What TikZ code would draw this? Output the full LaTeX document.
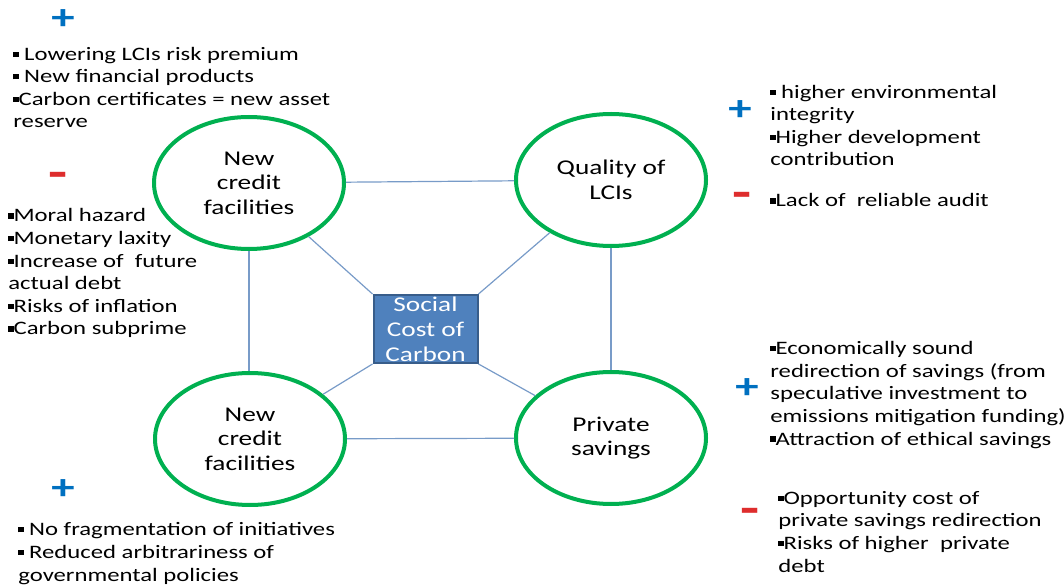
\documentclass[tikz,border=0pt]{standalone}
\usepackage{fontspec}
\setmainfont{Carlito}[FakeStretch=1.3]
\usepackage{tikz}
\usetikzlibrary{positioning}
\usetikzlibrary{shapes.geometric}

\definecolor{ringgreen}{RGB}{0,176,80}
\definecolor{boxblue}{RGB}{79,129,189}
\definecolor{boxedge}{RGB}{56,93,138}
\definecolor{linkblue}{RGB}{120,155,200}
\definecolor{plusblue}{RGB}{0,112,192}
\definecolor{minusred}{RGB}{222,45,45}

\newcommand{\sqb}{\raisebox{0.18em}{\rule{2.6pt}{2.6pt}}}

\tikzset{
    ring/.style={ellipse, draw=ringgreen, line width=2pt, minimum width=95pt,
        minimum height=66pt, align=center, font=\fontsize{10.5}{12.3}\selectfont},
    sccbox/.style={rectangle, fill=boxblue, draw=boxedge, line width=1pt, text=white,
        minimum width=52pt, minimum height=34pt, inner sep=0pt, align=center,
        font=\fontsize{10.5}{12.4}\selectfont},
    link/.style={draw=linkblue, line width=0.6pt},
    plus/.style={text=plusblue, inner sep=0pt, font=\fontsize{18}{18}\selectfont\bfseries},
    minus/.style={text=minusred, inner sep=0pt, font=\fontsize{24}{24}\selectfont\bfseries},
    % base of a list = baseline of its last line
    bullets/.style={anchor=base west, align=left, inner sep=0pt,
        font=\fontsize{9.5}{11.3}\selectfont}
}

\begin{document}
\begin{tikzpicture}[x=0.5pt, y=-0.5pt]
    \useasboundingbox (0,0) rectangle (1064,587);
    %% the four rings and the box
    \node[sccbox] (scc) at (425.5,329) {Social\\Cost of\\Carbon};
    \node[ring] (credTop) at (249,183) {New\\credit\\facilities};
    \node[ring] (qual) at (611,180) {Quality of\\LCIs};
    \node[ring] (credBot) at (250,439) {New\\credit\\facilities};
    \node[ring] (priv) at (611,438) {Private\\savings};
    % links
    \draw[link] (credTop) -- (qual);
    \draw[link] (credTop) -- (credTop |- credBot.north);
    \draw[link] (qual) -- (qual |- priv.north);
    \draw[link] (credBot) -- (priv);
    \draw[link] (scc.north west) -- (credTop);
    \draw[link] (scc.north east) -- (qual);
    \draw[link] (scc.south west) -- (credBot);
    \draw[link] (scc.south east) -- (priv);

    %% upper left
    \node[plus] (credTopPlus) at (63,20) {+};
    \node[bullets] (credTopPro) at (13,128) {\sqb\ Lowering LCIs risk premium\\
        \sqb\ New financial products\\
        \sqb Carbon certificates = new asset\\
        reserve};
    \node[minus] (credTopMinus) at (58,180) {-};
    \node[bullets] (credTopCon) at (8,335) {\sqb Moral hazard\\
        \sqb Monetary laxity\\
        \sqb Increase of ~future\\
        actual debt\\
        \sqb Risks of inflation\\
        \sqb Carbon subprime};

    %% upper right
    \node[bullets] (qualPro) at (770,166) {\sqb\ higher environmental\\
        integrity\\
        \sqb Higher development\\
        contribution};
    \node[plus] (qualPlus) at (740,111) {+};
    \node[minus] (qualMinus) at (742,200) {-};
    \node[bullets] (qualCon) at (770,207) {\sqb Lack of ~reliable audit};

    %% lower right
    \node[bullets] (privPro) at (770,445) {\sqb Economically sound\\
        redirection of savings (from\\
        speculative investment to\\
        emissions mitigation funding)\\
        \sqb Attraction of ethical savings};
    \node[plus] (privPlus) at (747,389) {+};
    \node[minus] (privMinus) at (750,516) {-};
    \node[bullets] (privCon) at (778,572) {\sqb Opportunity cost of\\
        private savings redirection\\
        \sqb Risks of higher ~private\\
        debt};

    %% lower left
    \node[plus] (credBotPlus) at (63,490) {+};
    \node[bullets] (credBotPro) at (18,581) {\sqb\ No fragmentation of initiatives\\
        \sqb\ Reduced arbitrariness of\\
        governmental policies};
\end{tikzpicture}
\end{document}
